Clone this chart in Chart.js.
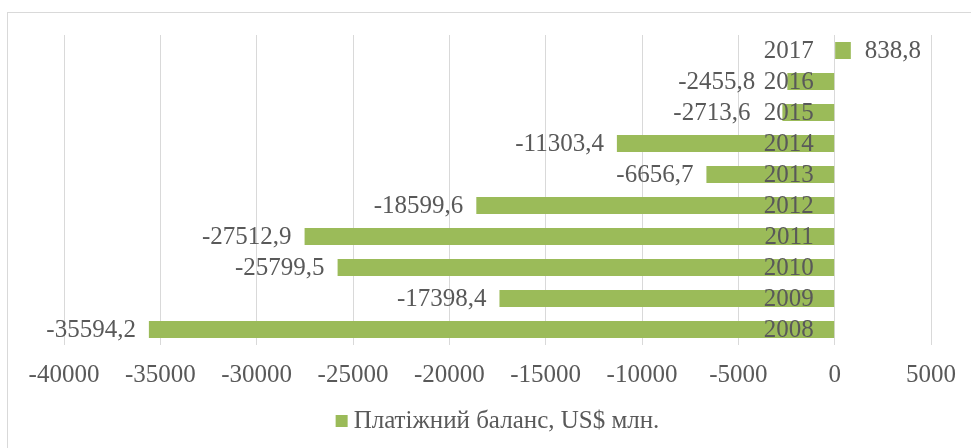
<!DOCTYPE html>
<html>
<head>
<meta charset="utf-8">
<script src="https://cdn.jsdelivr.net/npm/chart.js@4"></script>
<style>
  html, body { margin: 0; padding: 0; background: #fff; overflow: hidden; }
  #wrap { position: relative; width: 971px; height: 448px; }
</style>
</head>
<body>
<div id="wrap"><canvas id="chart" width="971" height="448"></canvas></div>
<script>
// Datos del gráfico
const years = ['2017', '2016', '2015', '2014', '2013', '2012', '2011', '2010', '2009', '2008'];
const balance = [838.8, -2455.8, -2713.6, -11303.4, -6656.7, -18599.6, -27512.9, -25799.5, -17398.4, -35594.2];
const xTicks = [-40000, -35000, -30000, -25000, -20000, -15000, -10000, -5000, 0, 5000];
const seriesName = 'Платіжний баланс, US$ млн.';

const FONT = '"Liberation Serif", "Times New Roman", serif';
const TEXT = '#595959';
const GRID = '#d9d9d9';

// Marco, etiquetas de categoría, valores y leyenda
const extras = {
  id: 'extras',
  beforeDraw(chart) {
    const ctx = chart.ctx;
    ctx.save();
    ctx.strokeStyle = GRID;
    ctx.lineWidth = 1;
    ctx.strokeRect(7.5, 12.5, 1200, 1200);
    ctx.restore();
  },
  afterDatasetsDraw(chart) {
    const ctx = chart.ctx;
    const x = chart.scales.x;
    const y = chart.scales.y;
    const x0 = x.getPixelForValue(0);
    ctx.save();
    ctx.font = '25px ' + FONT;
    ctx.fillStyle = TEXT;
    ctx.textBaseline = 'middle';
    years.forEach((yr, i) => {
      const py = y.getPixelForValue(i) + 1;
      ctx.textAlign = 'right';
      ctx.fillText(yr, x0 - 21, py);
      const v = balance[i];
      const px = x.getPixelForValue(v);
      const txt = v.toFixed(1).replace('.', ',');
      if (v < 0) {
        ctx.textAlign = 'right';
        // las barras cortas dejan sitio al año
        const lx = (px - 13 > x0 - 80) ? px - 32 : px - 13;
        ctx.fillText(txt, lx, py);
      } else {
        ctx.textAlign = 'left';
        ctx.fillText(txt, px + 14, py);
      }
    });
    // leyenda
    const w = ctx.measureText(seriesName).width;
    const total = 12 + 6 + w;
    const cx = (chart.chartArea.left + chart.chartArea.right) / 2;
    const lx = cx - total / 2;
    ctx.fillStyle = '#9bbb59';
    ctx.fillRect(lx, 415, 12, 12);
    ctx.fillStyle = TEXT;
    ctx.textAlign = 'left';
    ctx.fillText(seriesName, lx + 18, 421);
    ctx.restore();
  }
};

new Chart(document.getElementById('chart'), {
  type: 'bar',
  data: {
    labels: years,
    datasets: [{
      label: seriesName,
      data: balance,
      backgroundColor: '#9bbb59',
      borderWidth: 0,
      categoryPercentage: 1,
      barPercentage: 0.55
    }]
  },
  options: {
    indexAxis: 'y',
    responsive: false,
    animation: false,
    layout: { padding: { left: 64, right: 37, top: 35, bottom: 0 } },
    plugins: {
      legend: { display: false },
      tooltip: { enabled: false }
    },
    scales: {
      x: {
        min: -40000,
        max: 5000,
        afterBuildTicks(scale) {
          scale.ticks = xTicks.map(v => ({ value: v }));
        },
        afterFit(scale) { scale.height = 103; },
        grid: { color: GRID, drawTicks: false, lineWidth: 1 },
        border: { display: false },
        ticks: {
          padding: 15,
          color: TEXT,
          font: { family: FONT, size: 25 },
          callback: v => String(v)
        }
      },
      y: {
        display: false
      }
    }
  },
  plugins: [extras]
});
</script>
</body>
</html>
